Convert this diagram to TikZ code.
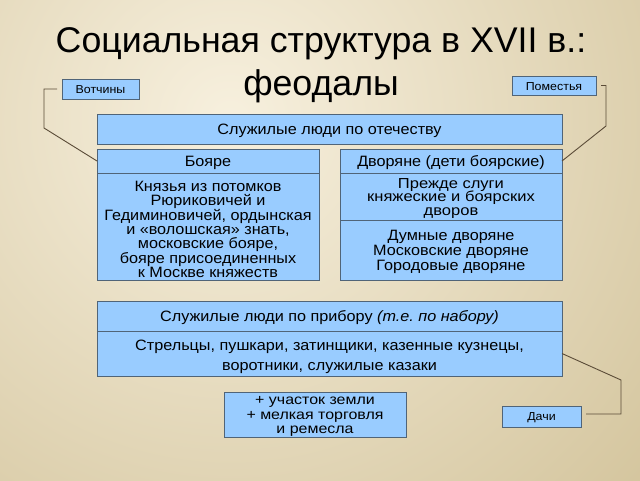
\documentclass[tikz,border=0pt]{standalone}
\usepackage{fontspec}
\setmainfont{Liberation Sans}
\newfontfamily\wf[FakeStretch=1.08]{Liberation Sans}
\newfontfamily\wff[FakeStretch=1.14]{Liberation Sans}
\definecolor{bgin}{RGB}{247,240,222}
\definecolor{bgout}{RGB}{208,192,150}
\definecolor{boxfill}{RGB}{153,204,255}
\definecolor{boxln}{RGB}{80,100,120}
\definecolor{linkc}{RGB}{90,75,55}
\frenchspacing
\begin{document}
\begin{tikzpicture}[x=1pt,y=-1pt,
  bx/.style={draw=boxln, fill=boxfill, line width=0.9pt, inner sep=0pt, outer sep=0pt,
    anchor=north west},
  txt/.style={inner sep=0pt, align=center, yshift=-2pt, font=\wf\fontsize{15}{14.3}\selectfont},
  small/.style={font=\wf\fontsize{11.5}{12}\selectfont},
  lnk/.style={draw=linkc, line width=0.9pt},
  ttl/.style={font=\fontsize{35.7}{38}\selectfont, inner sep=0pt, anchor=base}]
\useasboundingbox (0,0) rectangle (640,480);
\begin{scope}
  \clip (0,0) rectangle (640,480);
  \shade[inner color=bgin, outer color=bgout] (230,120) circle (620);
\end{scope}
\node[ttl] (t1) at (321,52) {Социальная структура в XVII в.:};
\node[ttl] (t2) at (321,95) {феодалы};

\node[bx, minimum width=77pt, minimum height=20pt] (votch) at (62,79) {};
\node[bx, minimum width=84pt, minimum height=19pt] (pomest) at (512,76) {};
\node[bx, minimum width=465pt, minimum height=30pt] (otech) at (97,114) {};
\node[bx, minimum width=222pt, minimum height=24pt] (boyh) at (97,149) {};
\node[bx, minimum width=222pt, minimum height=107pt] (boyb) at (97,173) {};
\node[bx, minimum width=222pt, minimum height=24pt] (dvh) at (340,149) {};
\node[bx, minimum width=222pt, minimum height=47pt] (dvb1) at (340,173) {};
\node[bx, minimum width=222pt, minimum height=60pt] (dvb2) at (340,220) {};
\node[bx, minimum width=465pt, minimum height=30pt] (pribh) at (97,301) {};
\node[bx, minimum width=465pt, minimum height=45pt] (pribb) at (97,331) {};
\node[bx, minimum width=182pt, minimum height=45pt] (uch) at (224,392) {};
\node[bx, minimum width=79pt, minimum height=21pt] (dachi) at (502,406) {};

\node[txt, small, yshift=1pt] (votcht) at (votch.center) {Вотчины};
\node[txt, small, yshift=1pt] (pomestt) at (pomest.center) {Поместья};
\node[txt] (otecht) at (otech.center) {Служилые люди по отечеству};
\node[txt] (boyht) at (boyh.center) {Бояре};
\node[txt, yshift=-1pt] (boybt) at (boyb.center)
  {Князья из потомков\\Рюриковичей и\\Гедиминовичей, ордынская\\и «волошская» знать,\\московские бояре,\\бояре присоединенных\\к Москве княжеств};
\node[txt] (dvht) at (dvh.center) {Дворяне (дети боярские)};
\node[txt, font=\wff\fontsize{14.5}{13.8}\selectfont] (dvb1t) at (dvb1.center)
  {Прежде слуги\\княжеские и боярских\\дворов};
\node[txt, font=\wf\fontsize{15}{14.8}\selectfont] (dvb2t) at (dvb2.center)
  {Думные дворяне\\Московские дворяне\\Городовые дворяне};
\node[txt] (pribht) at (pribh.center)
  {Служилые люди по прибору \textit{(т.е. по набору)}};
\node[txt, yshift=-1.5pt, font=\wf\fontsize{15}{19.5}\selectfont] (pribbt) at (pribb.center)
  {Стрельцы, пушкари, затинщики, казенные кузнецы,\\воротники, служилые казаки};
\node[txt, font=\wff\fontsize{14}{14.3}\selectfont] (ucht) at (uch.center)
  {+ участок земли\\+ мелкая торговля\\и ремесла};
\node[txt, small, yshift=1pt] (dachit) at (dachi.center) {Дачи};

\coordinate (l1) at (57,89);
\coordinate (l2) at (44,89);
\coordinate (l3) at (44,128);
\coordinate (r1) at (601,85.5);
\coordinate (r2) at (606,85.5);
\coordinate (r3) at (606,126);
\coordinate (d1) at (621,380);
\coordinate (d2) at (621,414);
\coordinate (d3) at (586,414);
\draw[lnk] (l1) -- (l2) -- (l3) -- (boyh.west);
\draw[lnk] (r1) -- (r2) -- (r3) -- (dvh.east);
\draw[lnk] (pribb.east) -- (d1) -- (d2) -- (d3);
\end{tikzpicture}
\end{document}
